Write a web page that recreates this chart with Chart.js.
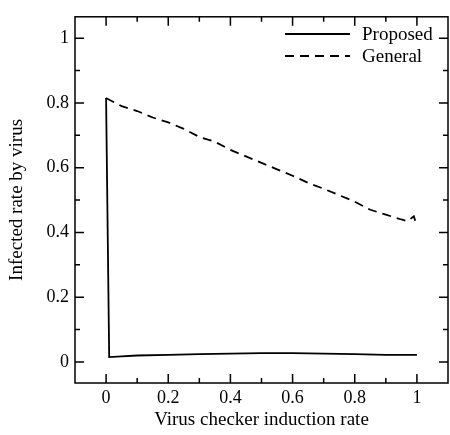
<!DOCTYPE html>
<html>
<head>
<meta charset="utf-8">
<script src="https://cdn.jsdelivr.net/npm/chart.js@4.4.1/dist/chart.umd.min.js"></script>
<style>
  html, body { margin: 0; padding: 0; background: #fff; }
  #wrap { width: 450px; height: 435px; }
</style>
</head>
<body>
<div id="wrap"><canvas id="chartInfect" width="450" height="435"></canvas></div>
<script>
// infected rate vs checker induction rate

const X_PROPOSED = [0, 0.01, 0.05, 0.1, 0.2, 0.3, 0.4, 0.5, 0.6, 0.7, 0.8, 0.9, 1.0];
const Y_PROPOSED = [0.815, 0.015, 0.017, 0.02, 0.022, 0.024, 0.026, 0.027, 0.027, 0.026, 0.024, 0.022, 0.022];

const X_GENERAL = [0, 0.01, 0.05, 0.1, 0.15, 0.2, 0.25, 0.3, 0.35, 0.4, 0.45, 0.5, 0.55, 0.6,
                   0.65, 0.7, 0.75, 0.8, 0.85, 0.9, 0.95, 0.97, 0.99, 1.0];
const Y_GENERAL = [0.815, 0.81, 0.79, 0.775, 0.755, 0.74, 0.72, 0.695, 0.68, 0.655, 0.635, 0.615, 0.595, 0.575,
                   0.553, 0.535, 0.515, 0.495, 0.47, 0.455, 0.44, 0.435, 0.45, 0.42];

const X_TICKS = [0, 0.2, 0.4, 0.6, 0.8, 1];
const X_MINOR = [0.1, 0.3, 0.5, 0.7, 0.9];
const Y_TICKS = [0, 0.2, 0.4, 0.6, 0.8, 1];
const Y_MINOR = [0.1, 0.3, 0.5, 0.7, 0.9];

const SERIES_NAMES = ['Proposed', 'General'];
const X_TITLE = 'Virus checker induction rate';
const Y_TITLE = 'Infected rate by virus';

const FONT = "'Liberation Serif', 'Times New Roman', serif";
const toPoints = (xs, ys) => xs.map((x, i) => ({ x, y: ys[i] }));

// ── frame + inward ticks on all four sides ───────────────────
const frameTicks = {
  id: 'frameTicks',
  afterDraw(chart) {
    const { ctx, chartArea: a, scales: { x, y } } = chart;
    ctx.save();
    ctx.strokeStyle = '#000';
    ctx.lineWidth = 1.5;
    ctx.strokeRect(a.left, a.top, a.right - a.left, a.bottom - a.top);
    const mark = (vals, len) => {
      vals.forEach(v => {
        const px = x.getPixelForValue(v);
        ctx.beginPath();
        ctx.moveTo(px, a.bottom); ctx.lineTo(px, a.bottom - len);
        ctx.moveTo(px, a.top); ctx.lineTo(px, a.top + len);
        ctx.stroke();
      });
    };
    const markY = (vals, len) => {
      vals.forEach(v => {
        const py = y.getPixelForValue(v);
        ctx.beginPath();
        ctx.moveTo(a.left, py); ctx.lineTo(a.left + len, py);
        ctx.moveTo(a.right, py); ctx.lineTo(a.right - len, py);
        ctx.stroke();
      });
    };
    mark(X_TICKS, 9); mark(X_MINOR, 5);
    markY(Y_TICKS, 9); markY(Y_MINOR, 5);
    ctx.restore();
  }
};

// ── legend in the top right corner ───────────────────────────
const cornerLegend = {
  id: 'cornerLegend',
  afterDraw(chart) {
    const { ctx } = chart;
    ctx.save();
    ctx.font = `19px ${FONT}`;
    ctx.fillStyle = '#000';
    ctx.textBaseline = 'middle';
    chart.data.datasets.forEach((ds, i) => {
      const yy = 34 + i * 22;
      ctx.strokeStyle = '#000';
      ctx.lineWidth = ds.borderWidth;
      ctx.setLineDash(ds.borderDash || []);
      ctx.beginPath();
      ctx.moveTo(285, yy); ctx.lineTo(350, yy);
      ctx.stroke();
      ctx.setLineDash([]);
      ctx.fillText(ds.label, 362, yy + 1);
    });
    ctx.restore();
  }
};

const tickFmt = v => String(v);

new Chart(document.getElementById('chartInfect'), {
  type: 'scatter',
  data: {
    datasets: [
      {
        label: SERIES_NAMES[0],
        data: toPoints(X_PROPOSED, Y_PROPOSED),
        showLine: true, borderColor: '#000', borderWidth: 1.8,
        pointRadius: 0, tension: 0, fill: false,
      },
      {
        label: SERIES_NAMES[1],
        data: toPoints(X_GENERAL, Y_GENERAL),
        showLine: true, borderColor: '#000', borderWidth: 1.8,
        borderDash: [9, 6],
        pointRadius: 0, tension: 0, fill: false,
      }
    ]
  },
  options: {
    responsive: false, animation: false,
    layout: { padding: { top: 10, right: 2, left: 0, bottom: 0 } },
    plugins: { legend: { display: false }, tooltip: { enabled: false } },
    scales: {
      x: {
        type: 'linear', min: -0.1, max: 1.1,
        afterBuildTicks: ax => { ax.ticks = X_TICKS.map(v => ({ value: v })); },
        afterFit: ax => { ax.height = 52; },
        grid: { display: false, drawTicks: false }, border: { display: false },
        ticks: { color: '#000', font: { family: FONT, size: 18 }, padding: 4, maxRotation: 0, callback: tickFmt },
        title: { display: true, text: X_TITLE, color: '#000', font: { family: FONT, size: 19 }, padding: { top: 0, bottom: 4 } }
      },
      y: {
        type: 'linear', min: -0.065, max: 1.066,
        afterBuildTicks: ax => { ax.ticks = Y_TICKS.map(v => ({ value: v })); },
        afterFit: ax => { ax.width = 75; },
        grid: { display: false, drawTicks: false }, border: { display: false },
        ticks: { color: '#000', font: { family: FONT, size: 18 }, padding: 6, callback: tickFmt },
        title: { display: true, text: Y_TITLE, color: '#000', font: { family: FONT, size: 19 }, padding: { top: 6, bottom: 0 } }
      }
    }
  },
  plugins: [frameTicks, cornerLegend]
});
</script>
</body>
</html>
